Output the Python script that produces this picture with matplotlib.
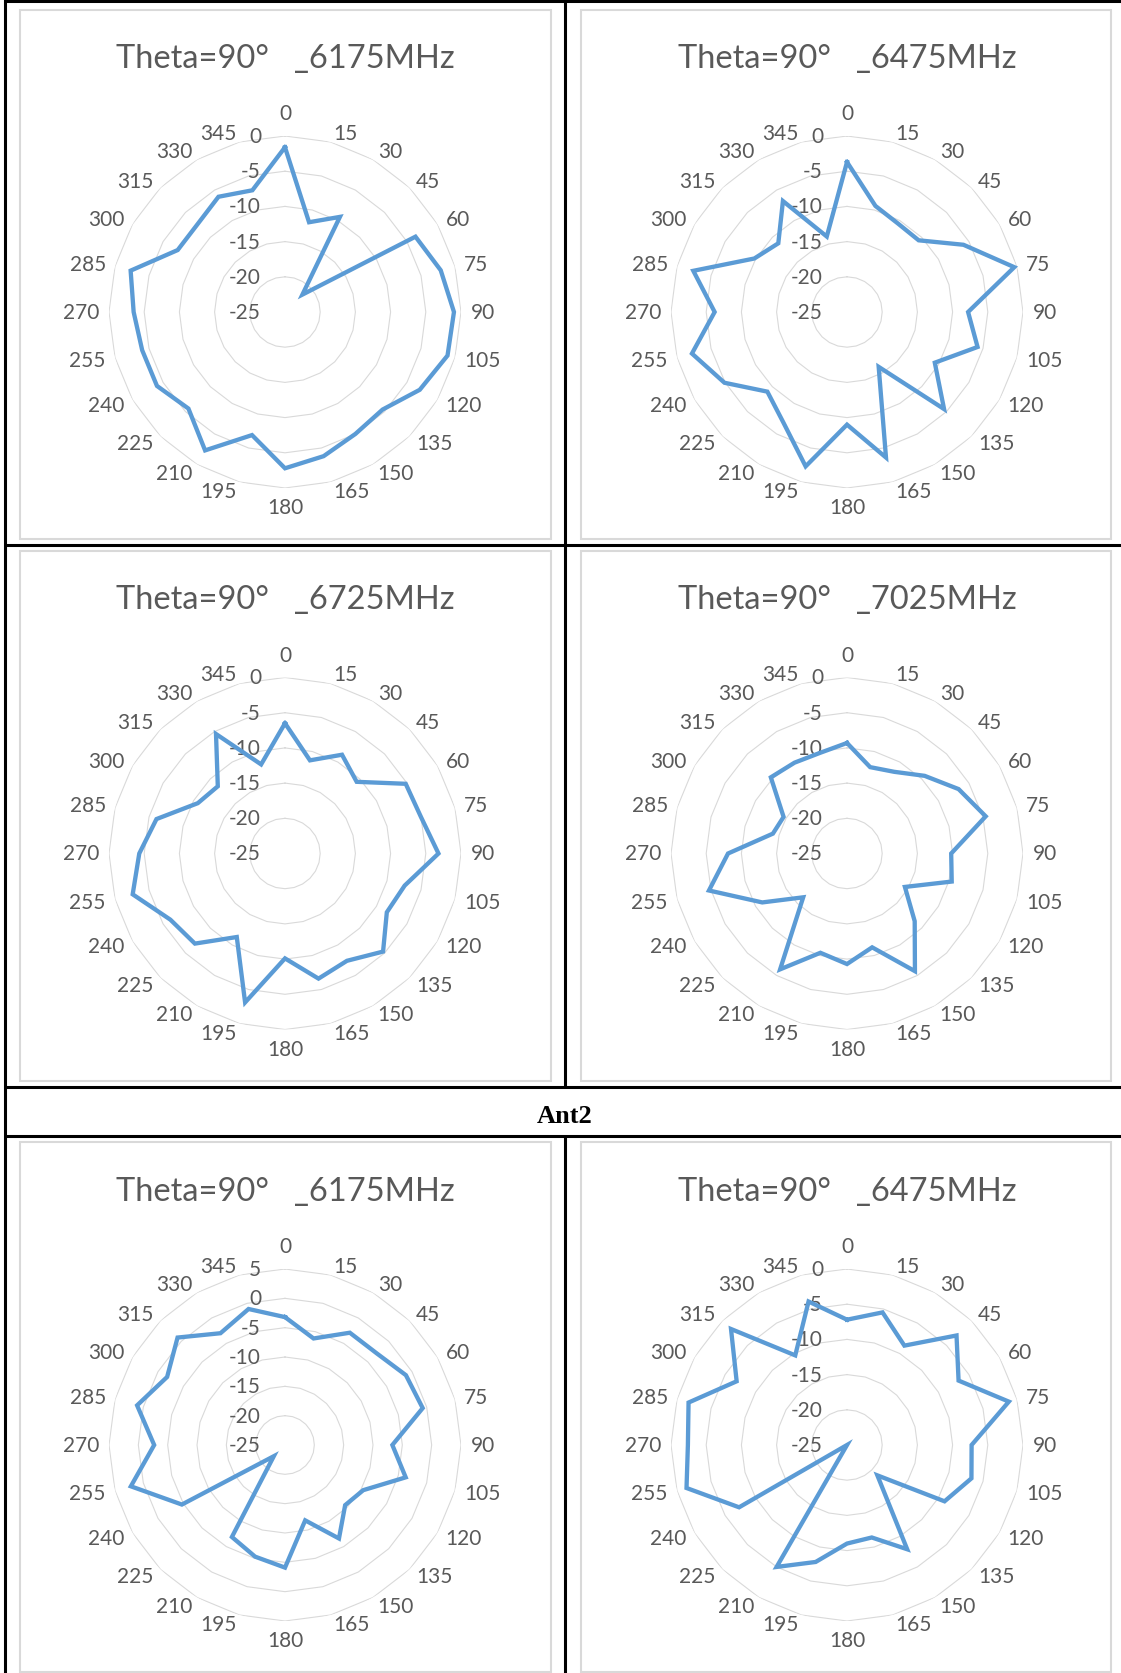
import numpy as np
import matplotlib
matplotlib.use('Agg')
import matplotlib.pyplot as plt
from matplotlib import transforms
from matplotlib.patches import Rectangle

plt.rcParams['font.family'] = ['Lato', 'DejaVu Sans']

W, H = 1121, 1674
DPI = 100

# azimuth step of the measurement (deg)
angles = list(range(0, 360, 15))

# Theta = 90 deg cut, gain in dB at each azimuth
ant1_6175 = [-1.6, -11.8, -9.4, -21.5, -3.6, -2.1, -1.0, -1.1, -2.9, -5.4, -5.0, -3.8,
             -2.8, -6.9, -2.3, -5.6, -4.0, -4.0, -3.5, -2.3, -7.4, -7.4, -6.1, -7.1]
ant1_6475 = [-3.7, -9.4, -10.5, -10.6, -5.9, -0.4, -7.8, -5.8, -10.6, -5.5, -16.0, -3.6,
             -9.0, -2.3, -6.9, -9.0, -4.9, -2.2, -6.2, -2.4, -9.8, -11.2, -6.8, -13.9]
ant1_6725 = [-6.5, -11.3, -8.8, -10.6, -5.2, -5.0, -3.2, -7.4, -8.3, -5.3, -7.4, -6.6,
             -10.1, -3.1, -11.3, -6.9, -6.2, -2.6, -4.3, -6.1, -10.7, -11.5, -5.4, -11.9]
ant1_7025 = [-9.3, -12.3, -11.6, -9.4, -6.7, -4.6, -10.2, -9.6, -15.5, -11.4, -5.7, -11.2,
             -9.3, -10.4, -6.0, -16.2, -11.1, -4.7, -8.1, -14.1, -14.6, -9.7, -10.1, -10.2]
ant2_6175 = [-3.2, -6.2, -2.9, -2.9, -1.2, -0.7, -6.7, -3.7, -9.6, -10.5, -6.6, -11.7,
             -4.1, -5.3, -6.9, -22.3, -4.7, 2.2, -2.7, 1.1, -1.8, 0.9, -3.0, -1.0]
ant2_6475 = [-7.2, -5.5, -8.7, -3.0, -6.7, -1.2, -7.3, -6.7, -9.0, -18.9, -7.9, -11.4,
             -11.0, -7.8, -5.0, -25.0, -7.3, -1.4, -2.4, -1.7, -6.9, -1.7, -10.3, -3.9]

titles = ['Theta=90°   _6175MHz', 'Theta=90°   _6475MHz',
          'Theta=90°   _6725MHz', 'Theta=90°   _7025MHz',
          'Theta=90°   _6175MHz', 'Theta=90°   _6475MHz']
r_top = [0, 0, 0, 0, 5, 0]
R_MIN = -25

BLUE = '#5B9BD5'
GRID = '#D9D9D9'
TEXT = '#595959'
R = 176          # outer ring radius, px
TICK_FS = 15
TITLE_FS = 23.5

col_x = [285, 847]
row_y = [313, 854.5, 1446]
box_x = [(20, 551), (581, 1111)]
box_y = [(11, 540), (552, 1082), (1143, 1673)]

fig = plt.figure(figsize=(W / DPI, H / DPI), dpi=DPI)
fig.patch.set_facecolor('white')

# pixel-space layer for the table rules and the chart frames
base = fig.add_axes([0, 0, 1, 1])
base.set_xlim(0, W)
base.set_ylim(H, 0)
base.axis('off')

rule = dict(color='black', lw=2.2, solid_capstyle='butt')
for y in [1.5, 546, 1088, 1136.5]:
    base.plot([3.5, W], [y, y], **rule)
base.plot([5, 5], [0, H], **rule)
base.plot([565, 565], [0, 1088], **rule)
base.plot([565, 565], [1136.5, H], **rule)

for (y0, y1) in box_y:
    for (x0, x1) in box_x:
        base.add_patch(Rectangle((x0, y0), x1 - x0, y1 - y0, fill=False,
                                 ec=GRID, lw=1.5))

fig.text(565 / W, 1 - 1122.6 / H, 'Ant2', family='Liberation Serif',
         weight='bold', fontsize=19, ha='center', va='baseline', color='black')


def radar(cx, cy, title, values, rmax):
    ax = fig.add_axes([(cx - R) / W, 1 - (cy + R) / H, 2 * R / W, 2 * R / H],
                      projection='polar')
    ax.set_theta_zero_location('N')
    ax.set_theta_direction(-1)
    ax.set_ylim(R_MIN, rmax)
    ax.grid(False)
    ax.set_xticks([])
    ax.set_yticks([])
    ax.spines['polar'].set_visible(False)
    ax.patch.set_visible(False)

    theta = np.deg2rad(angles + angles[:1])
    # polygonal gridlines, one per 5 dB step
    for r in np.arange(R_MIN + 5, rmax + 1, 5):
        ax.plot(theta, [r] * len(theta), color=GRID, lw=0.8, zorder=1)
    ax.plot(theta, values + values[:1], color=BLUE, lw=3.1, zorder=3,
            clip_on=False, solid_joinstyle='miter')

    # gain scale to the left of the 0 deg spoke
    off = transforms.offset_copy(ax.transData, fig=fig, x=-24, y=0, units='dots')
    for r in np.arange(R_MIN, rmax + 1, 5):
        ax.text(0, r, str(int(r)), transform=off, ha='right', va='center',
                fontsize=TICK_FS, color=TEXT, zorder=2)

    # azimuth labels around the outer ring
    for a in angles:
        t = np.deg2rad(a)
        dx, dy = 9.5 * np.sin(t), 9.5 * np.cos(t)
        if a == 0:
            ha, va = 'center', 'baseline'
            dy += 7
        elif a == 180:
            ha, va = 'center', 'top'
        else:
            ha = 'left' if a < 180 else 'right'
            va = 'center'
        tr = transforms.offset_copy(ax.transData, fig=fig, x=dx, y=dy, units='dots')
        ax.text(t, rmax, str(a), transform=tr, ha=ha, va=va, fontsize=TICK_FS,
                color=TEXT)

    fig.text(cx / W, 1 - (cy - 245) / H, title, ha='center', va='baseline',
             fontsize=TITLE_FS, color=TEXT)


series = [ant1_6175, ant1_6475, ant1_6725, ant1_7025, ant2_6175, ant2_6475]
for i, vals in enumerate(series):
    radar(col_x[i % 2], row_y[i // 2], titles[i], vals, r_top[i])

fig.savefig('out.png', dpi=DPI)
